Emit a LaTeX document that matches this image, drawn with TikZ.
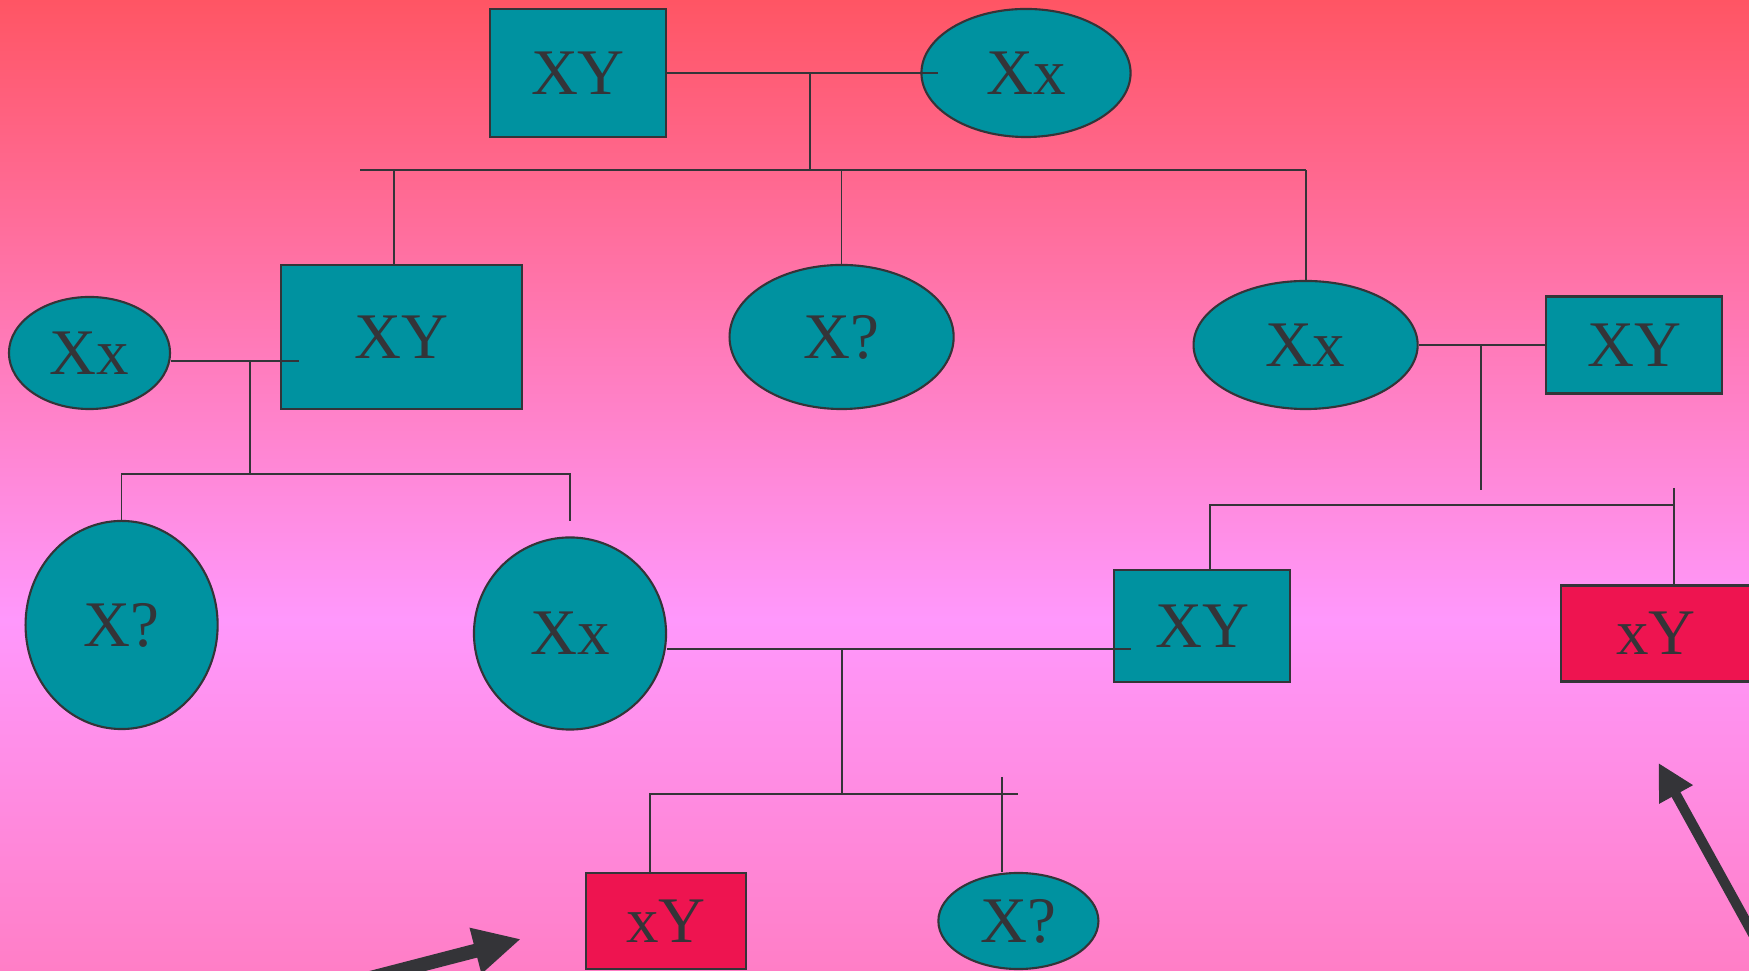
\documentclass[tikz,border=0pt]{standalone}
\usepackage{fontspec}
\setmainfont{Liberation Serif}
\usetikzlibrary{shapes.geometric,arrows.meta}
\definecolor{teal1}{RGB}{0,146,160}
\definecolor{redm}{RGB}{238,20,80}
\definecolor{ink}{RGB}{52,52,56}
\definecolor{bgtop}{RGB}{255,85,100}
\definecolor{bgmid}{RGB}{255,152,252}
\definecolor{bgbot}{RGB}{255,126,198}
\newcommand\genfont{\fontsize{18.5}{20}\selectfont}
\tikzset{
  male/.style={rectangle, draw=ink, fill=teal1, line width=0.6pt, inner sep=0pt, text=ink, font=\genfont},
  female/.style={ellipse, draw=ink, fill=teal1, line width=0.6pt, inner sep=0pt, text=ink, font=\genfont},
  affected/.style={male, fill=redm},
  link/.style={draw=ink, line width=0.5pt},
  pointer/.style={draw=ink, line width=0.14cm, -{Triangle[length=0.47cm,width=0.44cm]}}
}
\begin{document}
\begin{tikzpicture}[x=0.01cm,y=-0.01cm]
  \useasboundingbox (0,0) rectangle (1749,971);
  \shade[top color=bgtop, bottom color=bgmid] (0,0) rectangle (1749,620);
  \shade[top color=bgmid, bottom color=bgbot] (0,619) rectangle (1749,971);
  \begin{scope}
    \clip (0,0) rectangle (1749,971);
    % first generation
    \node[male, minimum width=1.76cm, minimum height=1.28cm] (f1) at (578,73) {XY};
    \node[female, minimum width=2.09cm, minimum height=1.28cm] (m1) at (1026,73) {Xx};
    % second generation
    \node[female, minimum width=1.61cm, minimum height=1.12cm] (w2) at (89.5,353) {Xx};
    \node[male, minimum width=2.41cm, minimum height=1.44cm] (s1) at (401.5,337) {XY};
    \node[female, minimum width=2.24cm, minimum height=1.44cm] (d1) at (841.6,337) {X?};
    \node[female, minimum width=2.24cm, minimum height=1.28cm] (d2) at (1305.6,345) {Xx};
    \node[male, minimum width=1.76cm, minimum height=0.97cm] (h2) at (1634,345) {XY};
    % third generation
    \node[female, minimum width=1.92cm, minimum height=2.08cm] (g1) at (121.6,625) {X?};
    \node[female, minimum width=1.92cm, minimum height=1.92cm] (g2) at (570,633.5) {Xx};
    \node[male, minimum width=1.765cm, minimum height=1.115cm] (h3) at (1202,626) {XY};
    \node[affected, minimum width=1.9cm, minimum height=0.96cm] (g3) at (1656,633.5) {xY};
    % fourth generation
    \node[affected, minimum width=1.6cm, minimum height=0.96cm] (g4) at (665.8,921) {xY};
    \node[female, minimum width=1.6cm, minimum height=0.96cm] (g5) at (1018.4,921) {X?};

    % junction points
    \coordinate (c1) at (810,73);
    \coordinate (b1) at (810,170);
    \coordinate (bar1w) at (360,170);
    \coordinate (k1) at (394,170);
    \coordinate (e2) at (299,361);
    \coordinate (c2) at (250,361);
    \coordinate (b2) at (250,474);
    \coordinate (c3) at (1481,345);
    \coordinate (c3b) at (1481,490);
    \coordinate (k3) at (1210,505);
    \coordinate (t3) at (1674,488);
    \coordinate (e4) at (1131,649);
    \coordinate (c4) at (842,649);
    \coordinate (b4) at (842,794);
    \coordinate (k4) at (650,794);
    \coordinate (e5) at (1018,794);
    \coordinate (t4) at (1002,777);

    % first family
    \draw[link] (f1.east) -- ([xshift=1.75mm]m1.west);
    \draw[link] (c1) -- (b1);
    \draw[link] (bar1w) -- (d2.north |- b1);
    \draw[link] (k1) -- (k1 |- s1.north);
    \draw[link] (d1.north) -- (d1.north |- b1);
    \draw[link] (d2.north) -- (d2.north |- b1);
    % left family
    \draw[link] (e2 -| w2.east) -- (e2);
    \draw[link] (c2) -- (b2);
    \draw[link] (g1.north) -- (g1.north |- b2) -- (b2 -| g2.north) -- ([yshift=1.5mm]g2.north);
    % right family
    \draw[link] (d2.east) -- (h2.west);
    \draw[link] (c3) -- (c3b);
    \draw[link] (k3 |- h3.north) -- (k3) -- (k3 -| t3);
    \draw[link] (t3) -- (t3 |- g3.north);
    % bottom family
    \draw[link] (e4 -| g2.east) -- (e4);
    \draw[link] (c4) -- (b4);
    \draw[link] (k4 |- g4.north) -- (k4) -- (e5);
    \draw[link] (t4) -- (t4 |- g5.north);

    % pointers
    \coordinate (a1s) at (324,990);
    \coordinate (a1e) at (521,939);
    \coordinate (a2s) at (1770,965);
    \coordinate (a2e) at (1658.6,763);
    \draw[pointer] (a1s) -- (a1e);
    \draw[pointer, line width=0.1cm, -{Triangle[length=0.36cm,width=0.36cm]}] (a2s) -- (a2e);
  \end{scope}
\end{tikzpicture}
\end{document}
